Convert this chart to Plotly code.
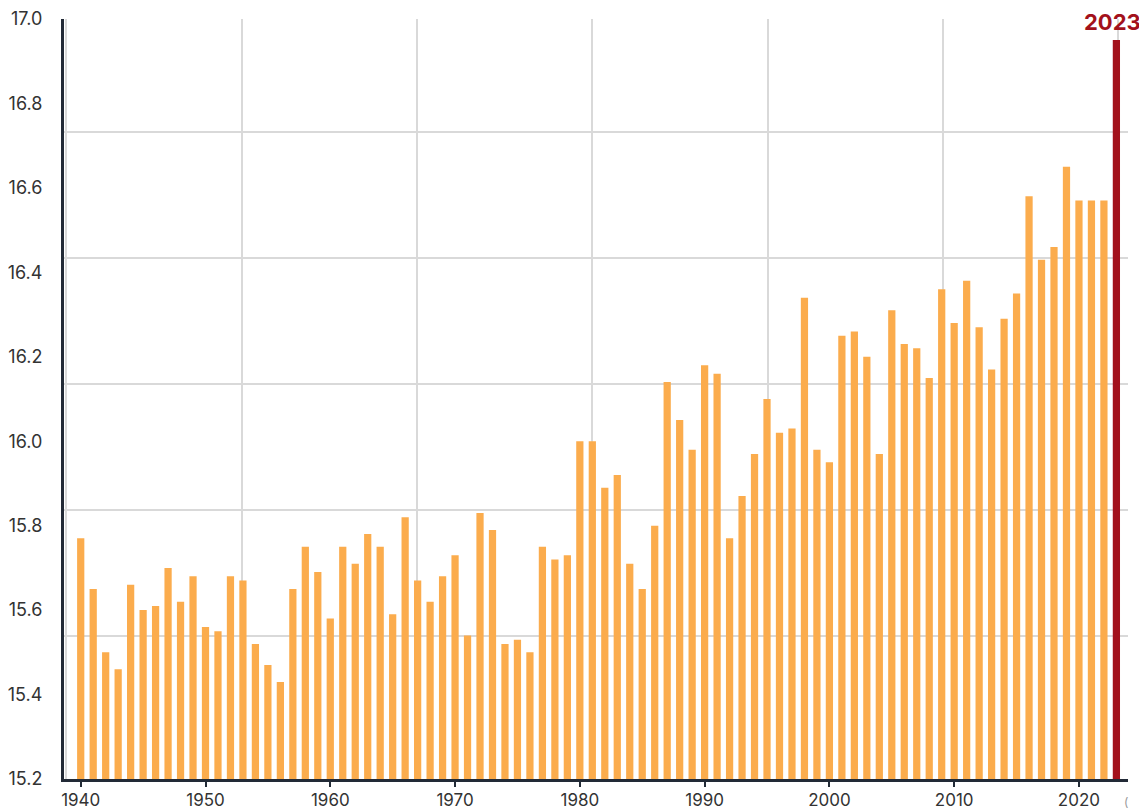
import plotly.graph_objects as go

years = list(range(1940, 2024))
temps = [
    15.77, 15.65, 15.50, 15.46, 15.66, 15.60, 15.61, 15.70, 15.62, 15.68,
    15.56, 15.55, 15.68, 15.67, 15.52, 15.47, 15.43, 15.65, 15.75, 15.69,
    15.58, 15.75, 15.71, 15.78, 15.75, 15.59, 15.82, 15.67, 15.62, 15.68,
    15.73, 15.54, 15.83, 15.79, 15.52, 15.53, 15.50, 15.75, 15.72, 15.73,
    16.00, 16.00, 15.89, 15.92, 15.71, 15.65, 15.80, 16.14, 16.05, 15.98,
    16.18, 16.16, 15.77, 15.87, 15.97, 16.10, 16.02, 16.03, 16.34, 15.98,
    15.95, 16.25, 16.26, 16.20, 15.97, 16.31, 16.23, 16.22, 16.15, 16.36,
    16.28, 16.38, 16.27, 16.17, 16.29, 16.35, 16.58, 16.43, 16.46, 16.65,
    16.57, 16.57, 16.57, 16.95,
]
highlight_label = "2023"

ORANGE = "#FBAC4D"
RED = "#A3111B"
AXIS = "#222a36"
GRID = "#d9d9d9"
FONT = "Inter"

x_range = [1938.66, 2023.93]
y_range = [15.2, 17.0]

# background grid (independent of the tick labels, as in the original)
ygrid = []
g = 15.539
while g < y_range[1]:
    ygrid.append(round(g, 4))
    g += 0.2986

fig = go.Figure()
fig.add_trace(go.Bar(x=years[:-1], y=temps[:-1], marker_color=ORANGE,
                     marker_line_width=0, width=0.58, showlegend=False))
fig.add_trace(go.Bar(x=years[-1:], y=temps[-1:], marker_color=RED,
                     marker_line_width=0, width=0.58, showlegend=False))
fig.add_trace(go.Scatter(x=[years[0]], y=[temps[0]], xaxis="x2", yaxis="y2",
                         mode="markers", marker_opacity=0, showlegend=False,
                         hoverinfo="skip"))

fig.add_annotation(x=years[-1], y=y_range[1], text=f"<b>{highlight_label}</b>",
                   showarrow=False, xanchor="center", yanchor="middle",
                   xshift=-4, yshift=-3,
                   font=dict(family=FONT, size=22, color=RED))
fig.add_annotation(xref="paper", yref="paper", x=0.994, y=-0.03, text="(",
                   showarrow=False, xanchor="left", yanchor="middle",
                   font=dict(family=FONT, size=12, color="#999999"))

fig.update_layout(
    width=1139, height=803,
    margin=dict(l=56, r=19, t=11, b=32, autoexpand=False),
    plot_bgcolor="white", paper_bgcolor="white",
    font=dict(family=FONT, size=18, color="#333333"),
    xaxis=dict(range=x_range, tickmode="linear", tick0=1940, dtick=10,
               showgrid=False, zeroline=False, showline=True, linecolor=AXIS,
               linewidth=3, ticks="outside", ticklen=5, tickwidth=2,
               tickcolor=AXIS, automargin=False, ticklabelstandoff=-1,
               tickfont=dict(size=17, color="#333333")),
    yaxis=dict(range=y_range, tickmode="linear", tick0=15.2, dtick=0.2,
               tickformat=".1f", showgrid=False, zeroline=False,
               showline=True, linecolor=AXIS, linewidth=3, ticks="",
               ticklabelstandoff=15, automargin=False,
               tickfont=dict(size=18, color="#333333")),
    xaxis2=dict(overlaying="x", range=x_range, tickmode="linear",
                tick0=1952.9, dtick=14.05, showgrid=True, gridcolor=GRID,
                gridwidth=2, showticklabels=False, zeroline=False,
                showline=False, ticks="", automargin=False),
    yaxis2=dict(overlaying="y", range=y_range, tickmode="array",
                tickvals=ygrid, showgrid=True, gridcolor=GRID,
                gridwidth=2, showticklabels=False, zeroline=False,
                showline=False, ticks="", automargin=False),
)

fig.write_html("out.html")
